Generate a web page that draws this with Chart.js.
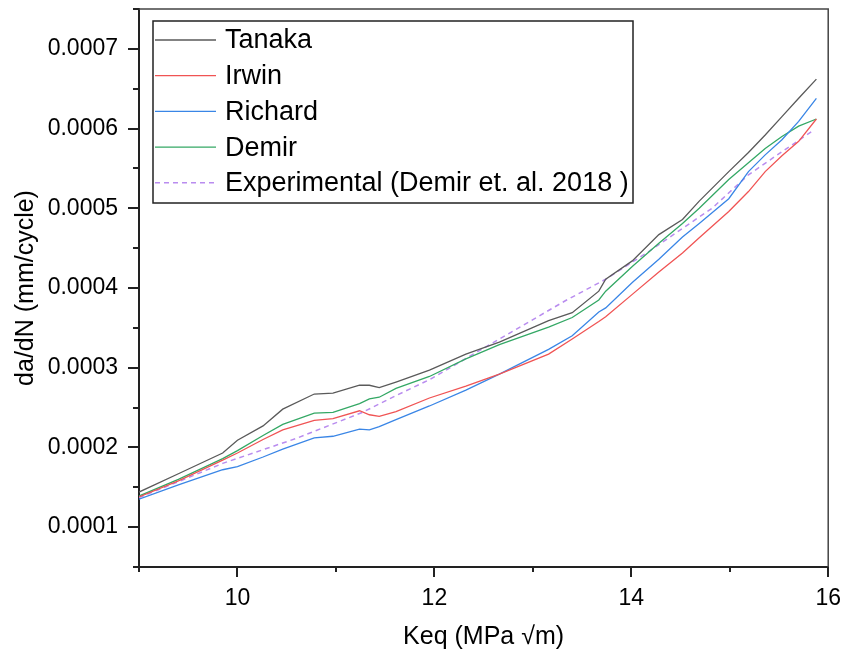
<!DOCTYPE html>
<html>
<head>
<meta charset="utf-8">
<title>da/dN vs Keq</title>
<script src="https://cdn.jsdelivr.net/npm/chart.js@4.4.1/dist/chart.umd.min.js"></script>
<style>
    html, body { margin: 0; padding: 0; background: #fff; }
    #wrap { width: 849px; height: 659px; }
</style>
</head>
<body>
<div id="wrap"><canvas id="crackChart" width="849" height="659"></canvas></div>
<script>
// Keq values (MPa √m) shared by the four model curves
const keq = [
    9.0, 9.4, 9.85, 10.0, 10.26, 10.46, 10.78, 10.97, 11.24, 11.34,
    11.44, 11.61, 11.95, 12.32, 12.66, 13.16, 13.40, 13.67, 13.74, 14.01,
    14.28, 14.52, 14.69, 14.99, 15.19, 15.36, 15.53, 15.70, 15.88
];

// da/dN (mm/cycle) for each model
const tanaka = [
    0.000144, 0.000167, 0.000193, 0.000209, 0.000227, 0.000248, 0.000267, 0.000268, 0.000278, 0.000278,
    0.000275, 0.000282, 0.000297, 0.000317, 0.000332, 0.000359, 0.000369, 0.000396, 0.000411, 0.000434,
    0.000467, 0.000486, 0.000509, 0.000546, 0.000570, 0.000592, 0.000615, 0.000638, 0.000662
];
const irwin = [
    0.000138, 0.000158, 0.000184, 0.000193, 0.000210, 0.000222, 0.000234, 0.000236, 0.000246, 0.000241,
    0.000239, 0.000245, 0.000262, 0.000277, 0.000292, 0.000317, 0.000336, 0.000358, 0.000364, 0.000392,
    0.000420, 0.000444, 0.000463, 0.000496, 0.000521, 0.000546, 0.000566, 0.000584, 0.000612
];
const richard = [
    0.000135, 0.000153, 0.000172, 0.000176, 0.000188, 0.000198, 0.000212, 0.000214, 0.000223, 0.000222,
    0.000226, 0.000235, 0.000252, 0.000272, 0.000292, 0.000323, 0.000340, 0.000370, 0.000375, 0.000407,
    0.000436, 0.000464, 0.000481, 0.000512, 0.000546, 0.000567, 0.000586, 0.000609, 0.000638
];
const demir = [
    0.000139, 0.000160, 0.000186, 0.000196, 0.000215, 0.000229, 0.000243, 0.000244, 0.000255, 0.000261,
    0.000263, 0.000274, 0.000289, 0.000311, 0.000329, 0.000351, 0.000363, 0.000385, 0.000396, 0.000427,
    0.000456, 0.000481, 0.000500, 0.000536, 0.000557, 0.000575, 0.000590, 0.000603, 0.000612
];

// experimental curve (Demir et. al. 2018)
const expKeq = [9.0, 9.4, 9.85, 10.59, 11.27, 11.61, 11.95, 12.66, 13.33, 13.74, 14.18, 14.82, 15.19, 15.53, 15.83];
const expRate = [
    0.000137, 0.000157, 0.000180, 0.000211, 0.000244, 0.000265, 0.000285, 0.000336,
    0.000384, 0.000411, 0.000446, 0.000500, 0.000542, 0.000571, 0.000596
];

const FONT = "'Liberation Sans', Arial, sans-serif";

const toPoints = (xs, ys) => xs.map((x, i) => ({ x: x, y: ys[i] }));

const lineSet = (label, xs, ys, color, dash) => ({
    label: label,
    data: toPoints(xs, ys),
    borderColor: color,
    backgroundColor: color,
    borderWidth: dash ? 1.5 : 1.3,
    borderDash: dash || [],
    pointRadius: 0,
    tension: 0,
    fill: false
});

// top/right frame plus outward tick marks (long on labelled values)
const frameTicks = {
    id: "frameTicks",
    afterDraw(chart) {
        const { ctx, chartArea: a, scales: { x, y } } = chart;
        ctx.save();
        ctx.strokeStyle = "#444";
        ctx.lineWidth = 1.5;
        ctx.beginPath();
        ctx.moveTo(a.left, a.top);
        ctx.lineTo(a.right, a.top);
        ctx.lineTo(a.right, a.bottom);
        ctx.stroke();

        ctx.strokeStyle = "#222";
        ctx.lineWidth = 2;
        ctx.beginPath();
        x.ticks.forEach(t => {
            const px = Math.round(x.getPixelForValue(t.value));
            ctx.moveTo(px, a.bottom);
            ctx.lineTo(px, a.bottom + (t.label ? 10 : 5));
        });
        y.ticks.forEach(t => {
            const py = Math.round(y.getPixelForValue(t.value));
            ctx.moveTo(a.left, py);
            ctx.lineTo(a.left - (t.label ? 11 : 6), py);
        });
        ctx.stroke();
        ctx.restore();
    }
};

// boxed legend in the upper left of the plot
const boxLegend = {
    id: "boxLegend",
    afterDraw(chart) {
        const { ctx, chartArea: a } = chart;
        const left = a.left + 14, top = a.top + 12;
        const w = 480, h = 182, rowH = 35.7;
        ctx.save();
        ctx.fillStyle = "#fff";
        ctx.fillRect(left, top, w, h);
        ctx.strokeStyle = "#222";
        ctx.lineWidth = 1.5;
        ctx.strokeRect(left, top, w, h);
        ctx.font = "27px " + FONT;
        ctx.textBaseline = "middle";
        chart.data.datasets.forEach((ds, i) => {
            const cy = top + 19 + i * rowH;
            ctx.strokeStyle = ds.borderColor;
            ctx.lineWidth = ds.borderWidth;
            ctx.setLineDash(ds.borderDash);
            ctx.beginPath();
            ctx.moveTo(left + 2, cy);
            ctx.lineTo(left + 63, cy);
            ctx.stroke();
            ctx.setLineDash([]);
            ctx.fillStyle = "#000";
            ctx.fillText(ds.label, left + 72, cy + 1);
        });
        ctx.restore();
    }
};

new Chart(document.getElementById("crackChart"), {
    type: "line",
    data: {
        datasets: [
            lineSet("Tanaka", keq, tanaka, "#5a5a5a"),
            lineSet("Irwin", keq, irwin, "#f05454"),
            lineSet("Richard", keq, richard, "#3a86e6"),
            lineSet("Demir", keq, demir, "#34a865"),
            lineSet("Experimental (Demir et. al. 2018 )", expKeq, expRate, "#b98cef", [5, 4])
        ]
    },
    options: {
        responsive: false,
        animation: false,
        layout: { padding: { top: 9, right: 17, left: 0, bottom: 0 } },
        plugins: {
            legend: { display: false },
            tooltip: { enabled: false }
        },
        scales: {
            x: {
                type: "linear",
                min: 9,
                max: 16,
                afterFit: s => { s.height = 92; },
                border: { display: true, color: "#222", width: 2 },
                grid: { drawOnChartArea: false, drawTicks: true, tickLength: 10, color: "rgba(0,0,0,0)" },
                ticks: {
                    stepSize: 1,
                    autoSkip: false,
                    maxRotation: 0,
                    padding: 8,
                    color: "#000",
                    font: { family: FONT, size: 23 },
                    callback: v => (Math.round(v) % 2 === 0 ? String(v) : "")
                },
                title: {
                    display: true,
                    text: "Keq (MPa √m)",
                    color: "#000",
                    font: { family: FONT, size: 25 },
                    padding: { top: 0, bottom: 7 }
                }
            },
            y: {
                type: "linear",
                min: 0.00005,
                max: 0.00075,
                afterFit: s => {
                    s.width = 139;
                    s.paddingTop = 0;
                    s.paddingBottom = 0;
                },
                border: { display: true, color: "#222", width: 2 },
                grid: { drawOnChartArea: false, drawTicks: true, tickLength: 11, color: "rgba(0,0,0,0)" },
                ticks: {
                    stepSize: 0.00005,
                    autoSkip: false,
                    padding: 10,
                    color: "#000",
                    font: { family: FONT, size: 23 },
                    callback: v => {
                        const n = Math.round(v * 20000);
                        return n % 2 === 0 ? (n / 20000).toFixed(4) : "";
                    }
                },
                title: {
                    display: true,
                    text: "da/dN (mm/cycle)",
                    color: "#000",
                    font: { family: FONT, size: 25 },
                    padding: { top: 11, bottom: 0 }
                }
            }
        }
    },
    plugins: [frameTicks, boxLegend]
});
</script>
</body>
</html>
